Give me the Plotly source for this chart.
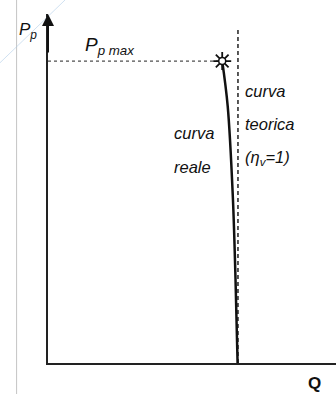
import plotly.graph_objects as go

# real pump curve (Q normalised to theoretical Q, P normalised to Pp max)
q_real = [0.917, 0.946, 0.973, 0.987, 0.998]
p_real = [1.0, 0.85, 0.55, 0.28, 0.0]

# theoretical curve (eta_v = 1)
q_theory = [1.0, 1.0]
p_theory = [0.0, 1.106]

# max pressure point
q_pmax = [0.0, 0.917]
p_pmax = [1.0, 1.0]

x_max = 1.516
y_max = 1.156
font = "Liberation Sans, Arial, sans-serif"

fig = go.Figure()

fig.add_trace(go.Scatter(x=q_pmax, y=p_pmax, mode="lines",
                         line=dict(color="#222", width=1, dash="dot")))
fig.add_trace(go.Scatter(x=q_theory, y=p_theory, mode="lines",
                         line=dict(color="#222", width=1.5, dash="4px,3px")))
fig.add_trace(go.Scatter(x=q_real, y=p_real, mode="lines",
                         line=dict(color="#111", width=2.5, shape="spline")))
fig.add_trace(go.Scatter(x=q_pmax[1:], y=p_pmax[1:], mode="markers",
                         marker=dict(symbol="asterisk-open", size=15, color="#111",
                                     line=dict(color="#111", width=1.8))))
fig.add_trace(go.Scatter(x=q_pmax[1:], y=p_pmax[1:], mode="markers",
                         marker=dict(symbol="circle", size=7, color="white",
                                     line=dict(color="#111", width=1.5))))

labels = [
    ("<i>curva</i>", 0.655, 0.761),
    ("<i>reale</i>", 0.655, 0.650),
    ("<i>curva</i>", 1.024, 0.902),
    ("<i>teorica</i>", 1.024, 0.793),
    ("<i>(η<sub>v</sub>=1)</i>", 1.024, 0.680),
    ("<i>P<sub>p max</sub></i>", 0.182, 1.051),
]
for txt, x, y in labels:
    size = 19 if txt.startswith("<i>P") else 16.5
    fig.add_annotation(x=x, y=y, text=txt, showarrow=False, xanchor="left",
                       font=dict(family=font, size=size, color="#111"))

fig.add_annotation(xref="paper", yref="paper", x=-0.108, y=0.951, text="<i>P<sub>p</sub></i>",
                   showarrow=False, xanchor="left", yanchor="middle",
                   font=dict(family=font, size=17, color="#111"))
fig.add_annotation(xref="paper", yref="paper", x=0.927, y=-0.058, text="<b>Q</b>",
                   showarrow=False, xanchor="center", yanchor="middle",
                   font=dict(family=font, size=17, color="#111"))

# y axis arrow
fig.add_annotation(xref="paper", yref="paper", x=0, y=1, ax=0, ay=40, text="",
                   showarrow=True, arrowhead=2, arrowsize=1.2, arrowwidth=2,
                   arrowcolor="#111")

# page border and faint guide line
fig.add_shape(type="line", xref="paper", yref="paper", x0=-0.109, x1=-0.109,
              y0=-0.1, y1=1.1, line=dict(color="#c4c4c4", width=1))
fig.add_shape(type="line", xref="paper", yref="paper", x0=-0.167, y0=0.86,
              x1=0.059, y1=1.04, line=dict(color="rgba(170,200,230,0.55)", width=1))

fig.update_xaxes(range=[0, x_max], showgrid=False, zeroline=False, showticklabels=False,
                 ticks="", showline=True, linecolor="#222", linewidth=2)
fig.update_yaxes(range=[0, y_max], showgrid=False, zeroline=False, showticklabels=False,
                 ticks="", showline=True, linecolor="#222", linewidth=2)
fig.update_layout(width=336, height=394, showlegend=False,
                  margin=dict(l=48, r=0, t=14, b=31),
                  paper_bgcolor="white", plot_bgcolor="white")

fig.write_html("out.html", config={"displayModeBar": False},
               post_script="document.body.style.margin='0';")
